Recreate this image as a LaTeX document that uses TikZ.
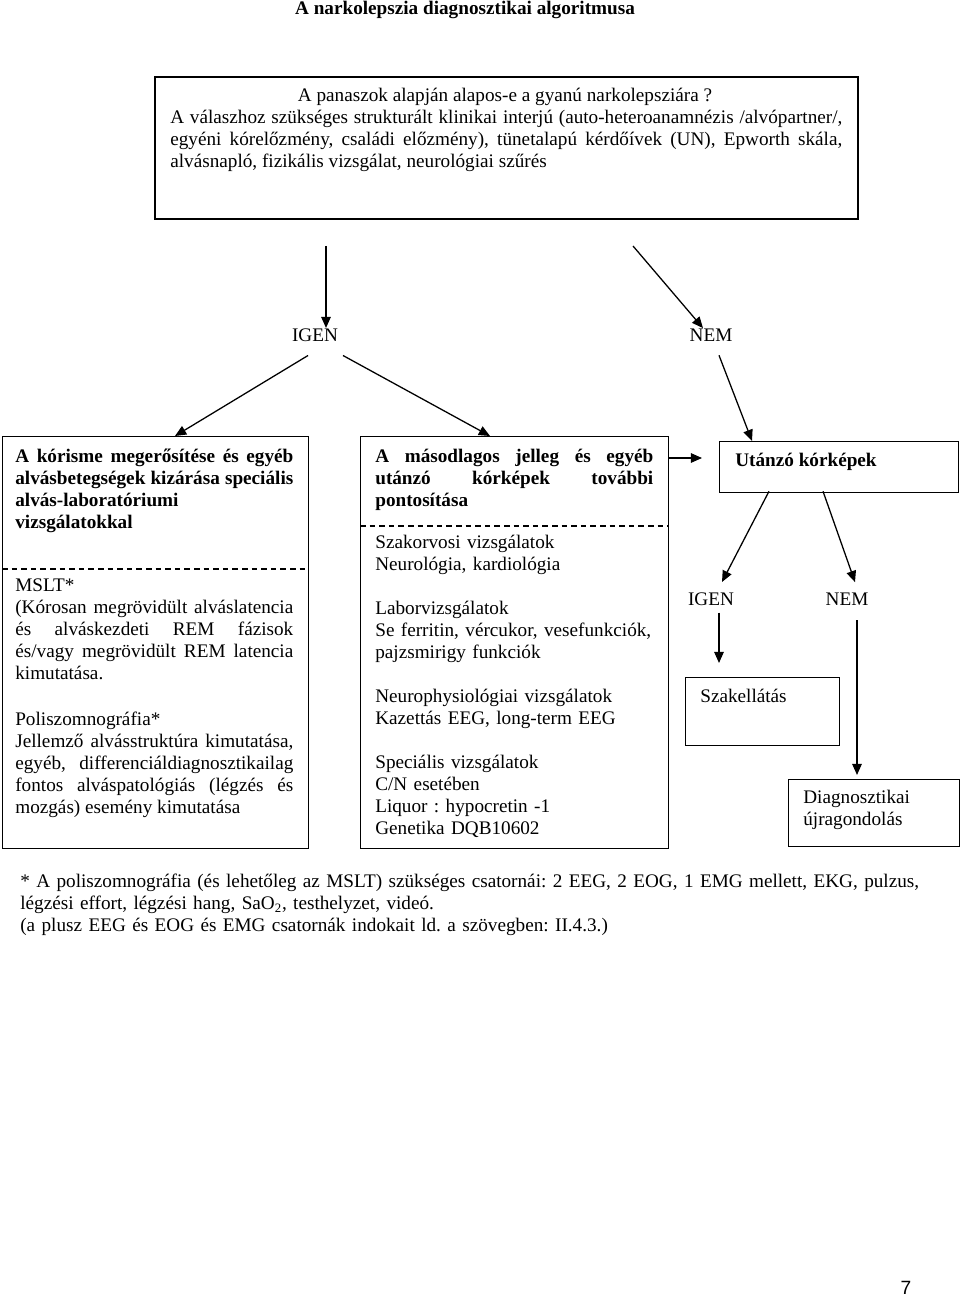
\documentclass[tikz,border=0pt]{standalone}
\usepackage{fontspec}
\setmainfont{Liberation Serif}
\setsansfont{Liberation Sans}
\usetikzlibrary{arrows.meta,calc}
\hyphenpenalty=10000
\exhyphenpenalty=10000
\frenchspacing

\begin{document}
\begin{tikzpicture}[x=0.625pt,y=-0.625pt,
    every node/.style={inner sep=0pt,font=\fontsize{12}{13.75}\selectfont},
    box/.style={draw,line width=0.8pt,anchor=north west},
    txt/.style={anchor=north west,text width=173.75pt,align=justify},
    boldtxt/.style={font=\fontsize{12}{13.75}\selectfont\bfseries},
    sep/.style={dash pattern=on 3.5pt off 2.5pt,line width=0.7pt},
    arr/.style={-{Triangle[length=7pt,width=6pt]},line width=0.8pt}]
    \useasboundingbox (0,0) rectangle (960,1296);

    % Title
    \node[anchor=base,boldtxt] (title) at (465,15) {A narkolepszia diagnosztikai algoritmusa};

    % Question box
    \node[box,line width=1.1pt,minimum width=439.375pt,minimum height=88.75pt] (start) at (154,76) {};
    \node[anchor=north] (question) at (505,85.6) {\strut A panaszok alapján alapos-e a gyanú narkolepsziára ?};
    \node[txt,text width=420pt] (questiontxt) at (170,107.6) {\strut A válaszhoz szükséges strukturált klinikai interjú (auto-heteroanamnézis /alvópartner/,\linebreak
        egyéni kórelőzmény, családi előzmény), tünetalapú kérdőívek (UN), Epworth skála,\linebreak
        alvásnapló, fizikális vizsgálat, neurológiai szűrés};

    % First answer
    \node[anchor=base] (igen) at (315,341) {IGEN};
    \node[anchor=base] (nem) at (711,341) {NEM};
    \coordinate (s1) at (326,246);
    \coordinate (s2) at (633,246);
    \draw[arr] (s1) -- (s1 |- igen.north);
    \draw[arr] (s2) -- ($(nem.north)+(-8,0)$);

    % Boxes
    \node[box,minimum width=191.25pt,minimum height=257.5pt] (confirm) at (2,436) {};
    \node[box,minimum width=192.5pt,minimum height=257.5pt] (second) at (360,436) {};
    \node[box,minimum width=149.375pt,minimum height=31.875pt] (mimic) at (719,441) {};
    \node[box,minimum width=96.25pt,minimum height=42.5pt] (care) at (685,677) {};
    \node[box,minimum width=106.875pt,minimum height=41.875pt] (rethink) at (788,779) {};

    \draw[arr] ($(igen.south)+(-7,14)$) -- ($(confirm.north west)+(173,0)$);
    \draw[arr] ($(igen.south)+(28,14)$) -- ($(second.north west)+(130,0)$);
    \draw[arr] ($(nem.south)+(8,14)$) -- ($(mimic.north west)+(33,0)$);
    \coordinate (m1) at (702,458);
    \draw[arr] (second.east |- m1) -- (m1);

    % Dashed separators
    \draw[sep] (2,569) -- (308,569);
    \draw[sep] (360,526) -- (668,526);

    % Left box
    \node[txt,boldtxt] (confirmhead) at (15,446.6) {\strut A kórisme megerősítése és egyéb\linebreak
        alvásbetegségek kizárása speciális\linebreak
        alvás-laboratóriumi\newline
        vizsgálatokkal};
    \node[txt] (mslt) at (15,575.6) {\strut MSLT*\newline
        (Kórosan megrövidült alváslatencia\linebreak
        és alváskezdeti REM fázisok\linebreak
        és/vagy megrövidült REM latencia\linebreak
        kimutatása.};
    \node[txt] (psg) at (15,709.6) {\strut Poliszomnográfia*\newline
        Jellemző alvásstruktúra kimutatása,\linebreak
        egyéb, differenciáldiagnosztikailag\linebreak
        fontos alváspatológiás (légzés és\linebreak
        mozgás) esemény kimutatása};

    % Middle box
    \node[txt,boldtxt] (secondhead) at (375,446.6) {\strut A másodlagos jelleg és egyéb\linebreak
        utánzó kórképek további\linebreak
        pontosítása};
    \node[txt,text width=200pt,align=left] (exams) at (375,532.6) {\strut Szakorvosi vizsgálatok\\
        Neurológia, kardiológia\\[13.75pt]
        Laborvizsgálatok\\
        Se ferritin, vércukor, vesefunkciók,\\
        pajzsmirigy funkciók\\[13.75pt]
        Neurophysiológiai vizsgálatok\\
        Kazettás EEG, long-term EEG\\[13.75pt]
        Speciális vizsgálatok\\
        C/N esetében\\
        Liquor : hypocretin -1\\
        Genetika DQB10602};

    % Right branch
    \node[anchor=north west,boldtxt] (mimictxt) at (735,450.6) {\strut Utánzó kórképek};
    \node[anchor=base] (igen2) at (711,605) {IGEN};
    \node[anchor=base] (nem2) at (847,605) {NEM};
    \draw[arr] ($(mimic.south west)+(50,-2)$) -- ($(igen2.north)+(11,-10)$);
    \draw[arr] ($(mimic.south west)+(104,-2)$) -- ($(nem2.north)+(8,-10)$);
    \node[anchor=north west] (caretxt) at (700,686.6) {\strut Szakellátás};
    \node[anchor=north west,text width=100pt,align=left] (rethinktxt) at (803,787.6) {\strut Diagnosztikai\\újragondolás};
    \draw[arr] ($(igen2.south)+(8,7)$) -- ($(care.north west)+(34,-14)$);
    \draw[arr] ($(nem2.south)+(10,15)$) -- ($(rethink.north west)+(69,-4)$);

    % Footnote
    \node[anchor=north west,text width=575pt,align=left] (note) at (20,871.6) {\strut * A poliszomnográfia (és lehetőleg az MSLT) szükséges csatornái: 2 EEG, 2 EOG, 1 EMG mellett, EKG, pulzus,\\
        légzési effort, légzési hang, SaO\textsubscript{2}, testhelyzet, videó.\\
        (a plusz EEG és EOG és EMG csatornák indokait ld. a szövegben: II.4.3.)};

    % Page number
    \node[anchor=base,font=\fontsize{12}{13.75}\selectfont\sffamily] (page) at (906,1294) {7};
\end{tikzpicture}
\end{document}
